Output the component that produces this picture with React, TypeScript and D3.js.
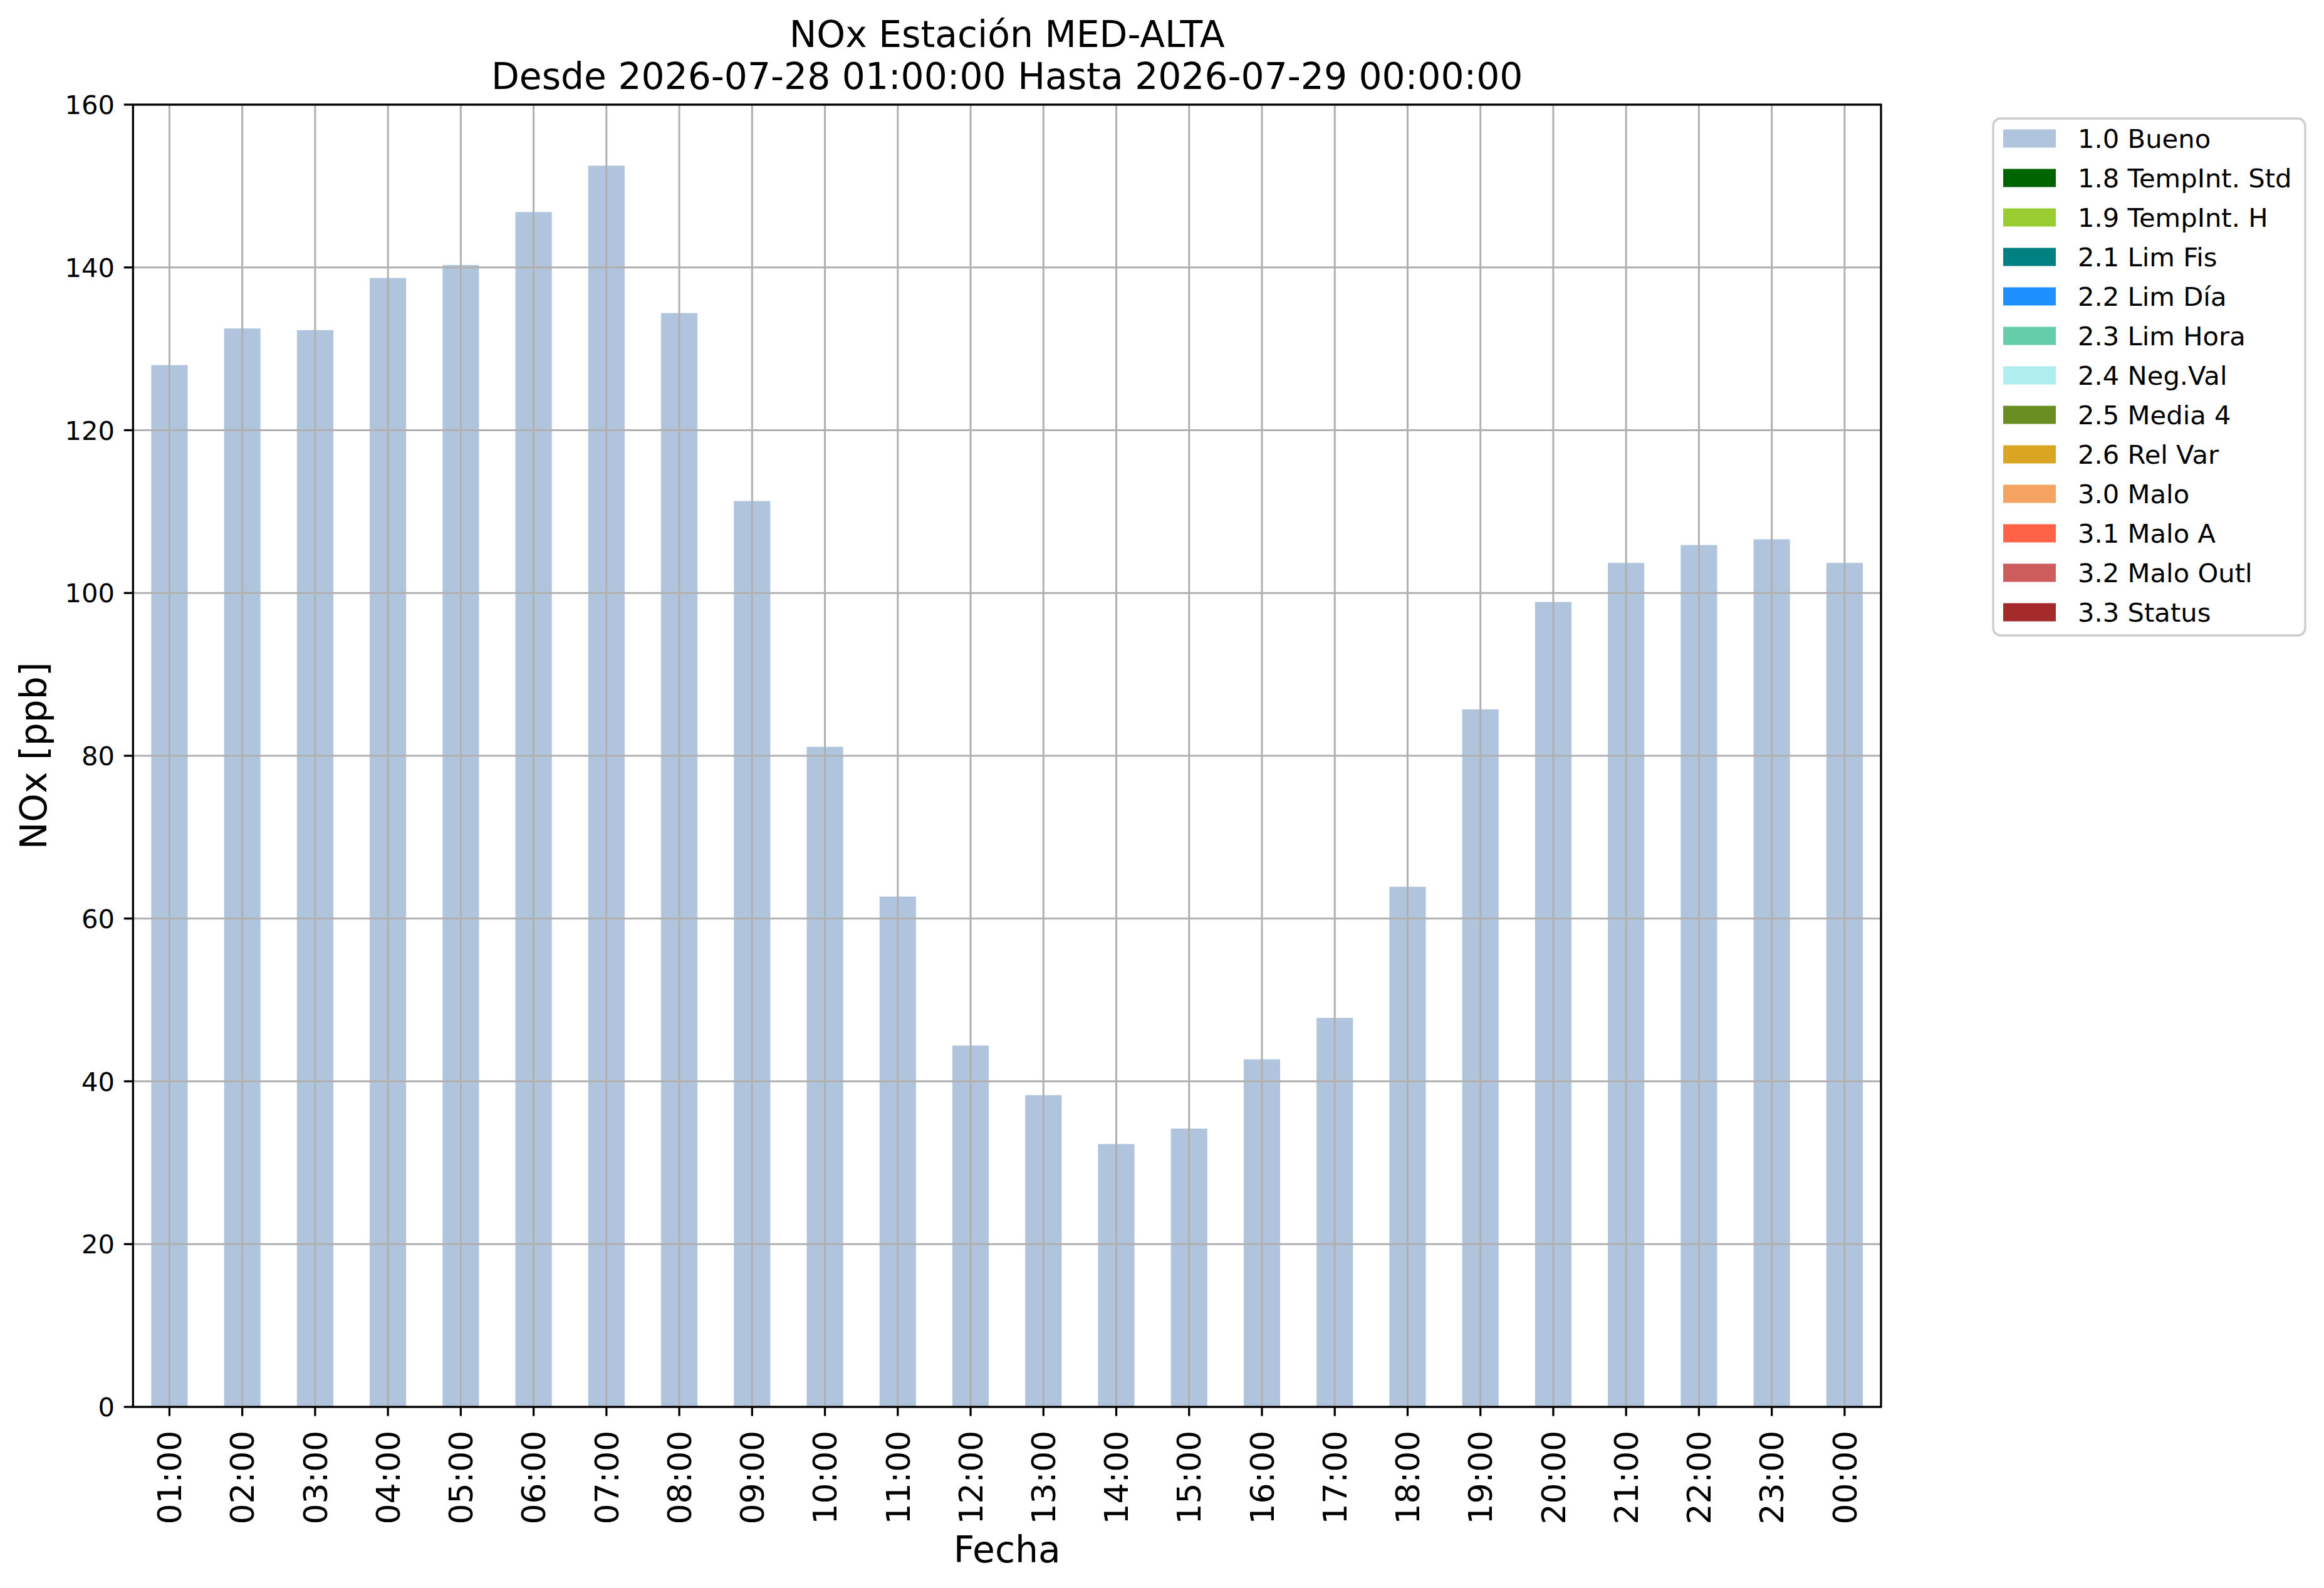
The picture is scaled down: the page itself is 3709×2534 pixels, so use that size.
import * as d3 from 'd3';

// hourly NOx means, 2026-07-28 01:00 .. 2026-07-29 00:00
const hours = [
  '01:00', '02:00', '03:00', '04:00', '05:00', '06:00', '07:00', '08:00',
  '09:00', '10:00', '11:00', '12:00', '13:00', '14:00', '15:00', '16:00',
  '17:00', '18:00', '19:00', '20:00', '21:00', '22:00', '23:00', '00:00',
];
const noxValues = [
  128.0, 132.5, 132.3, 138.7, 140.3, 146.8, 152.5, 134.4,
  111.3, 81.1, 62.7, 44.4, 38.3, 32.3, 34.2, 42.7,
  47.8, 63.9, 85.7, 98.9, 103.7, 105.9, 106.6, 103.7,
];
const yTicks = [0, 20, 40, 60, 80, 100, 120, 140, 160];

const flagLabels = [
  '1.0 Bueno', '1.8 TempInt. Std', '1.9 TempInt. H', '2.1 Lim Fis', '2.2 Lim Día',
  '2.3 Lim Hora', '2.4 Neg.Val', '2.5 Media 4', '2.6 Rel Var', '3.0 Malo',
  '3.1 Malo A', '3.2 Malo Outl', '3.3 Status',
];
const flagColors = [
  '#b0c4de', '#006400', '#9acd32', '#008080', '#1e90ff',
  '#66cdaa', '#afeeee', '#6b8e23', '#daa520', '#f4a460',
  '#ff6347', '#cd5c5c', '#a52a2a',
];

const W = 3709;
const H = 2534;
const margin = { left: 212.3, right: 3002, top: 167, bottom: 2245 };
const font = '"DejaVu Sans", sans-serif';
const lw = 3.3;
const tickLen = 14.6;

export default function App() {
  const x = d3.scaleBand<string>()
    .domain(hours)
    .range([margin.left, margin.right])
    .paddingInner(0.5)
    .paddingOuter(0.25);
  const y = d3.scaleLinear().domain([0, 160]).range([margin.bottom, margin.top]);
  const cx = (h: string) => (x(h) as number) + x.bandwidth() / 2;
  const midX = (margin.left + margin.right) / 2;
  const midY = (margin.top + margin.bottom) / 2;

  // legend layout
  const lg = { x: 3181, y: 189, w: 498, h: 825, row: 63, first: 221 };

  return (
    <svg width={W} height={H} style={{ position: 'absolute', left: 0, top: 0, background: '#fff' }}
      fontFamily={font}>
      <rect width={W} height={H} fill="#fff" />

      {/* title */}
      <text x={midX} y={75} textAnchor="middle" fontSize={58.3}>NOx Estación MED-ALTA</text>
      <text x={midX} y={141.7} textAnchor="middle" fontSize={58.3}>
        Desde 2026-07-28 01:00:00 Hasta 2026-07-29 00:00:00
      </text>

      {/* bars */}
      {hours.map((h, i) => (
        <rect key={h} x={x(h)} y={y(noxValues[i])} width={x.bandwidth()}
          height={y(0) - y(noxValues[i])} fill={flagColors[0]} />
      ))}

      {/* grid, drawn above the bars */}
      <g stroke="#b0b0b0" strokeWidth={3}>
        {yTicks.map(t => (
          <line key={t} x1={margin.left} x2={margin.right} y1={y(t)} y2={y(t)} />
        ))}
        {hours.map(h => (
          <line key={h} x1={cx(h)} x2={cx(h)} y1={margin.top} y2={margin.bottom} />
        ))}
      </g>

      {/* spines */}
      <rect x={margin.left} y={margin.top} width={margin.right - margin.left}
        height={margin.bottom - margin.top} fill="none" stroke="#000" strokeWidth={lw} />

      {/* y axis */}
      {yTicks.map(t => (
        <g key={t}>
          <line x1={margin.left - tickLen} x2={margin.left} y1={y(t)} y2={y(t)} stroke="#000" strokeWidth={lw} />
          <text x={margin.left - tickLen - 14.6} y={y(t)} dy="0.36em" textAnchor="end" fontSize={41.7}>{t}</text>
        </g>
      ))}
      <text transform={`translate(74,${midY}) rotate(-90)`} textAnchor="middle" fontSize={58.3}>NOx [ppb]</text>

      {/* x axis */}
      {hours.map(h => (
        <g key={h}>
          <line x1={cx(h)} x2={cx(h)} y1={margin.bottom} y2={margin.bottom + tickLen} stroke="#000" strokeWidth={lw} />
          <text transform={`translate(${cx(h)},${margin.bottom + tickLen + 23}) rotate(-90)`}
            textAnchor="end" dy="0.36em" fontSize={52}>{h}</text>
        </g>
      ))}
      <text x={midX} y={2492.7} textAnchor="middle" fontSize={58.3}>Fecha</text>

      {/* legend */}
      <rect x={lg.x} y={lg.y} width={lg.w} height={lg.h} rx={12} fill="#fff" fillOpacity={0.8}
        stroke="#cccccc" strokeWidth={lw} />
      {flagLabels.map((label, i) => {
        const cy = lg.first + i * lg.row;
        return (
          <g key={label}>
            <rect x={3197} y={cy - 14.5} width={84} height={29} fill={flagColors[i]} />
            <text x={3316} y={cy} dy="0.36em" fontSize={41.7}>{label}</text>
          </g>
        );
      })}
    </svg>
  );
}
